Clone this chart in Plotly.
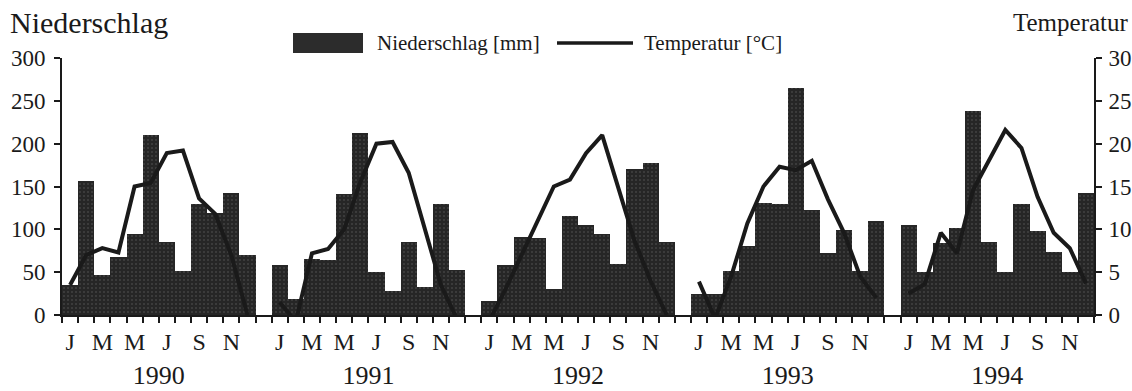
import plotly.graph_objects as go

years = ["1990", "1991", "1992", "1993", "1994"]
month_letters = ["J", "M", "M", "J", "S", "N"]
labelled_months = [0, 2, 4, 6, 8, 10]

precip_1990 = [35, 156, 47, 68, 94, 210, 85, 51, 129, 119, 143, 70]
precip_1991 = [58, 19, 65, 64, 141, 212, 50, 28, 85, 33, 129, 52]
precip_1992 = [16, 58, 91, 90, 30, 115, 105, 94, 60, 170, 177, 85]
precip_1993 = [24, 24, 51, 80, 131, 130, 265, 122, 72, 99, 51, 110]
precip_1994 = [105, 50, 84, 102, 238, 85, 50, 129, 98, 73, 50, 143]

temp_1990 = [3.5, 7.0, 7.8, 7.3, 15.0, 15.4, 18.9, 19.2, 13.6, 11.8, 7.0, 0.0]
temp_1991 = [1.5, -0.8, 7.2, 7.7, 10.0, 15.5, 20.0, 20.2, 16.6, 10.2, 3.5, -0.5]
temp_1992 = [-0.7, 3.0, 7.0, 11.0, 15.0, 15.8, 18.9, 21.0, 14.7, 8.7, 4.0, 0.0]
temp_1993 = [3.9, -0.4, 4.5, 10.7, 15.0, 17.3, 16.9, 18.0, 13.5, 9.6, 4.5, 2.0]
temp_1994 = [2.5, 3.6, 9.6, 7.2, 14.6, 18.1, 21.6, 19.5, 13.8, 9.6, 7.8, 3.7]

precip = [precip_1990, precip_1991, precip_1992, precip_1993, precip_1994]
temp = [temp_1990, temp_1991, temp_1992, temp_1993, temp_1994]

SLOTS = 13  # 12 months + one empty slot between years
n_slots = len(years) * 12 + (len(years) - 1)

bar_x, bar_y, line_x, line_y = [], [], [], []
for k in range(len(years)):
    for m in range(12):
        s = k * SLOTS + m
        bar_x.append(s)
        bar_y.append(precip[k][m])
        line_x.append(s)
        line_y.append(temp[k][m])
    line_x.append(None)
    line_y.append(None)

month_tickvals, month_ticktext = [], []
for k in range(len(years)):
    for m, t in zip(labelled_months, month_letters):
        month_tickvals.append(k * SLOTS + m)
        month_ticktext.append(t)
year_tickvals = [k * SLOTS + 5.5 for k in range(len(years))]

FONT = "Liberation Serif, Times New Roman, serif"
INK = "#1a1a1a"
BAR = "#2c2c2c"

W, H = 1132, 391

fig = go.Figure()
fig.add_trace(go.Bar(
    x=bar_x, y=bar_y, width=1.0,
    marker=dict(color=BAR, line=dict(width=0),
                pattern=dict(shape=".", fgcolor="#5c5c5c", bgcolor="#262626",
                             size=4, solidity=0.2)),
    name="Niederschlag [mm]", showlegend=False, hoverinfo="x+y",
))
fig.add_trace(go.Scatter(
    x=line_x, y=line_y, yaxis="y2", mode="lines", connectgaps=False,
    line=dict(color=INK, width=4), name="Temperatur [°C]", showlegend=False,
))
# invisible carrier so the year-label axis is drawn
fig.add_trace(go.Scatter(
    x=year_tickvals, y=[None] * len(year_tickvals), xaxis="x2", mode="markers",
    marker=dict(opacity=0), showlegend=False, hoverinfo="skip",
))

L, R, T, B = 62, 1094, 58, 315
def px(x):
    return (x - L) / (R - L)
def py(y):
    return (B - y) / (B - T)

axis_common = dict(showgrid=False, zeroline=False, showline=True, linecolor=INK,
                   linewidth=2, tickcolor=INK, tickwidth=2, automargin=False,
                   tickfont=dict(family=FONT, size=23, color=INK))

fig.update_layout(
    width=W, height=H, autosize=False,
    margin=dict(l=L, r=W - R, t=T, b=H - B, pad=0),
    paper_bgcolor="white", plot_bgcolor="white",
    bargap=0, showlegend=False,
    font=dict(family=FONT, color=INK),
    xaxis=dict(range=[-0.5, n_slots - 0.5], tickmode="array", automargin=False,
               tickvals=month_tickvals, ticktext=month_ticktext, ticks="",
               showgrid=False, zeroline=False, showline=True, linecolor=INK, linewidth=2,
               tickfont=dict(family=FONT, size=24, color=INK), ticklabelstandoff=4,
               minor=dict(tickmode="linear", tick0=-0.5, dtick=1, ticks="outside",
                          ticklen=6, tickwidth=2, tickcolor=INK, showgrid=False)),
    xaxis2=dict(overlaying="x", range=[-0.5, n_slots - 0.5], tickmode="array",
                automargin=False,
                tickvals=year_tickvals, ticktext=years, ticks="", showline=False,
                showgrid=False, zeroline=False, side="bottom", anchor="y",
                tickfont=dict(family=FONT, size=26, color=INK), ticklabelstandoff=42),
    yaxis=dict(range=[0, 300], tickmode="array", tickvals=list(range(0, 301, 50)),
               ticks="outside", ticklen=6, ticklabelstandoff=4, **axis_common),
    yaxis2=dict(range=[0, 30], overlaying="y", side="right", tickmode="array",
                tickvals=list(range(0, 31, 5)), ticks="outside", ticklen=6,
                ticklabelstandoff=2, **axis_common),
)

# titles
fig.add_annotation(text="Niederschlag", xref="paper", yref="paper", x=px(8), y=py(22),
                   xanchor="left", yanchor="middle", showarrow=False,
                   font=dict(family=FONT, size=30, color=INK))
fig.add_annotation(text="Temperatur", xref="paper", yref="paper", x=px(1131), y=py(22),
                   xanchor="right", yanchor="middle", showarrow=False,
                   font=dict(family=FONT, size=25, color=INK))

# legend drawn manually
fig.add_shape(type="rect", xref="paper", yref="paper", x0=px(293), x1=px(363),
              y0=py(53), y1=py(33), fillcolor=BAR, line=dict(width=0))
fig.add_annotation(text="Niederschlag [mm]", xref="paper", yref="paper", x=px(375), y=py(43),
                   xanchor="left", yanchor="middle", showarrow=False,
                   font=dict(family=FONT, size=21, color=INK))
fig.add_shape(type="line", xref="paper", yref="paper", x0=px(557), x1=px(633),
              y0=py(43), y1=py(43), line=dict(color=INK, width=3.5))
fig.add_annotation(text="Temperatur [°C]", xref="paper", yref="paper", x=px(642), y=py(43),
                   xanchor="left", yanchor="middle", showarrow=False,
                   font=dict(family=FONT, size=21, color=INK))

# remove the default page margin so the figure sits at the window's origin
fig.write_html("out.html",
               config={"displayModeBar": False},
               post_script="document.body.style.margin='0';"
                           "document.body.style.overflow='hidden';")
